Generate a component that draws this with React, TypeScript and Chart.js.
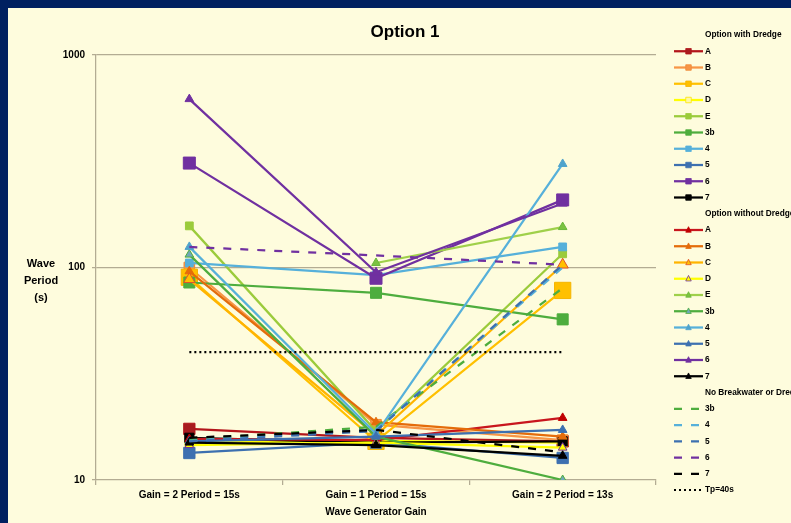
import { useEffect, useRef } from "react";
import { Chart, registerables } from "chart.js";

Chart.register(...registerables);

// ---- data ----
const categories = ["Gain = 2 Period = 15s", "Gain = 1 Period = 15s", "Gain = 2 Period = 13s"];
const yTickValues = [10, 100, 1000];

// Option with Dredge
const withA = [17.4, 15.8, 15.2];
const withB = [100, 18.2, 15.4];
const withC = [90, 15.2, 78];
const withD = [15.0, 15.3, 15.0];
const withE = [157, 17.0, 116];
const with3b = [85, 76, 57];
const with4 = [105, 92, 125];
const with5 = [13.4, 15.0, 12.7];
const with6 = [310, 89, 208];
const with7 = [15.8, 15.0, 15.2];

// Option without Dredge
const withoutA = [15.6, 15.4, 19.6];
const withoutB = [96, 18.7, 16.0];
const withoutC = [88, 16.2, 103];
const withoutD = [14.6, 15.0, 14.2];
const withoutE = [null, 105, 155];
const without3b = [115, 16.0, 10];
const without4 = [125, 16.5, 307];
const without5 = [15.2, 16.0, 17.2];
const without6 = [620, 95, 200];
const without7 = [15.0, 14.6, 13.0];

// No Breakwater or Dredge
const none3b = [15.5, 17.8, 80];
const none4 = [15.3, 17.3, 100];
const none5 = [15.2, 17.0, 103];
const none6 = [125, 114, 103];
const none7 = [15.8, 17.2, 13.5];

// Reference period
const tp40 = [40, 40, 40];

// ---- styling ----
const BG = "#FEFCDD";
const NAVY = "#002060";
const AXIS = "#B3AC93";
const FONT = "'Liberation Sans Narrow', 'Liberation Sans', Arial, sans-serif";
const W = 800;
const H = 530;

type Marker = "rect" | "triangle" | null;
type Series = {
  label: string;
  data: (number | null)[];
  color: string;
  dash?: number[];
  marker: Marker;
  fill?: string;
  stroke?: string;
  radius?: number;
};

const groupWith: Series[] = [
  { label: "A", data: withA, color: "#B3151B", marker: "rect", fill: "#A81C1F", stroke: "#B3151B", radius: 8 },
  { label: "B", data: withB, color: "#F79646", marker: "rect", fill: "#F79646", stroke: "#F08A36", radius: 7.5 },
  { label: "C", data: withC, color: "#FFC000", marker: "rect", fill: "#FFC000", stroke: "#F5B400", radius: 11.5 },
  { label: "D", data: withD, color: "#FFFF00", marker: "rect", fill: "#FFF9A8", stroke: "#FFE500", radius: 6 },
  { label: "E", data: withE, color: "#9BCB3B", marker: "rect", fill: "#9BCB3B", stroke: "#9BCB3B", radius: 5.5 },
  { label: "3b", data: with3b, color: "#4EAD3E", marker: "rect", fill: "#4EAD3E", stroke: "#4EAD3E", radius: 7.8 },
  { label: "4", data: with4, color: "#56B0DA", marker: "rect", fill: "#56B0DA", stroke: "#56B0DA", radius: 5.5 },
  { label: "5", data: with5, color: "#3D70B0", marker: "rect", fill: "#3D70B0", stroke: "#3D70B0", radius: 8 },
  { label: "6", data: with6, color: "#7030A0", marker: "rect", fill: "#7030A0", stroke: "#7030A0", radius: 8.5 },
  { label: "7", data: with7, color: "#000000", marker: "rect", fill: "#000000", stroke: "#000000", radius: 6.5 },
];

const groupWithout: Series[] = [
  { label: "A", data: withoutA, color: "#C8161D", marker: "triangle", fill: "#C00000", stroke: "#C00000", radius: 5 },
  { label: "B", data: withoutB, color: "#E46C0A", marker: "triangle", fill: "#E46C0A", stroke: "#E46C0A", radius: 5 },
  { label: "C", data: withoutC, color: "#FFB400", marker: "triangle", fill: "#FFC000", stroke: "#E0502A", radius: 6.5 },
  { label: "D", data: withoutD, color: "#FFFF00", marker: "triangle", fill: "#FFFF00", stroke: "#7030A0", radius: 5 },
  { label: "E", data: withoutE, color: "#9FD04A", marker: "triangle", fill: "#7CC240", stroke: "#6AB83A", radius: 5 },
  { label: "3b", data: without3b, color: "#4EAD3E", marker: "triangle", fill: "#6FA8B8", stroke: "#4EAD3E", radius: 5 },
  { label: "4", data: without4, color: "#56B0DA", marker: "triangle", fill: "#4FA3CC", stroke: "#4FA3CC", radius: 5 },
  { label: "5", data: without5, color: "#3D70B0", marker: "triangle", fill: "#3D70B0", stroke: "#3D70B0", radius: 5 },
  { label: "6", data: without6, color: "#7030A0", marker: "triangle", fill: "#7030A0", stroke: "#7030A0", radius: 5 },
  { label: "7", data: without7, color: "#000000", marker: "triangle", fill: "#000000", stroke: "#000000", radius: 5 },
];

const DASH = [8, 9];
const groupNone: Series[] = [
  { label: "3b", data: none3b, color: "#4EAD3E", dash: DASH, marker: null },
  { label: "4", data: none4, color: "#56B0DA", dash: DASH, marker: null },
  { label: "5", data: none5, color: "#3D70B0", dash: DASH, marker: null },
  { label: "6", data: none6, color: "#7030A0", dash: DASH, marker: null },
  { label: "7", data: none7, color: "#000000", dash: DASH, marker: null },
];

const tpSeries: Series = { label: "Tp=40s", data: tp40, color: "#000000", dash: [2, 3], marker: null };

const legendRows: (string | Series)[] = [
  "Option with Dredge",
  ...groupWith,
  "Option without Dredge",
  ...groupWithout,
  "No Breakwater or Dredge",
  ...groupNone,
  tpSeries,
];

const allSeries: Series[] = [...groupWith, ...groupWithout, ...groupNone, tpSeries];

function drawMarker(
  ctx: CanvasRenderingContext2D,
  style: Marker,
  x: number,
  y: number,
  size: number,
  fill: string,
  stroke: string
) {
  if (!style) return;
  ctx.save();
  ctx.setLineDash([]);
  ctx.beginPath();
  if (style === "rect") {
    ctx.rect(x - size / 2, y - size / 2, size, size);
  } else {
    ctx.moveTo(x, y - size * 0.6);
    ctx.lineTo(x + size / 2, y + size * 0.4);
    ctx.lineTo(x - size / 2, y + size * 0.4);
    ctx.closePath();
  }
  ctx.fillStyle = fill;
  ctx.fill();
  ctx.lineWidth = 0.8;
  ctx.strokeStyle = stroke;
  ctx.stroke();
  ctx.restore();
}

// Title, axis titles and the grouped legend are painted directly on the canvas.
const decorPlugin = {
  id: "decor",
  beforeDraw(chart: Chart) {
    const { ctx, width, height } = chart;
    ctx.save();
    ctx.fillStyle = BG;
    ctx.fillRect(0, 0, width, height);
    ctx.restore();
  },
  afterDraw(chart: Chart) {
    const { ctx, chartArea } = chart;
    ctx.save();
    ctx.fillStyle = "#000";
    ctx.textBaseline = "middle";

    // title
    ctx.textAlign = "center";
    ctx.font = `bold 17px ${FONT}`;
    ctx.fillText("Option 1", 397, 24);

    // y-axis title (horizontal, stacked)
    ctx.font = `bold 11px ${FONT}`;
    ctx.fillText("Wave", 33, 256);
    ctx.fillText("Period", 33, 273);
    ctx.fillText("(s)", 33, 290);

    // x-axis title
    ctx.font = `bold 10px ${FONT}`;
    ctx.fillText("Wave Generator Gain", (chartArea.left + chartArea.right) / 2, 504);

    // legend
    const x0 = 666;
    const x1 = 695;
    const textX = 697;
    const top = 27;
    const step = 16.25;
    ctx.textAlign = "left";
    ctx.font = `bold 8.3px ${FONT}`;
    legendRows.forEach((row, i) => {
      const y = top + i * step;
      if (typeof row === "string") {
        ctx.fillStyle = "#000";
        ctx.fillText(row, textX, y);
        return;
      }
      ctx.save();
      ctx.strokeStyle = row.color;
      ctx.lineWidth = row.dash && row.dash[0] === 2 ? 2 : 2.25;
      ctx.setLineDash(row.dash || []);
      ctx.beginPath();
      ctx.moveTo(x0, y);
      ctx.lineTo(x1, y);
      ctx.stroke();
      ctx.restore();
      drawMarker(ctx, row.marker, (x0 + x1) / 2, y, 5.5, row.fill || row.color, row.stroke || row.color);
      ctx.fillStyle = "#000";
      ctx.fillText(row.label, textX, y);
    });
    ctx.restore();
  },
};

export default function App() {
  const canvasRef = useRef<HTMLCanvasElement | null>(null);

  useEffect(() => {
    document.documentElement.style.overflow = "hidden";
    document.documentElement.style.background = NAVY;
    document.body.style.background = NAVY;
    const canvas = canvasRef.current;
    if (!canvas) return;
    const n = allSeries.length;

    const chart = new Chart(canvas, {
      type: "line",
      data: {
        labels: categories,
        datasets: allSeries.map((s, i) => ({
          label: s.label,
          data: s.data,
          borderColor: s.color,
          backgroundColor: s.color,
          borderWidth: 2.25,
          borderDash: s.dash || [],
          pointStyle: s.marker || "circle",
          pointRadius: s.marker ? s.radius || 5 : 0,
          pointHoverRadius: s.marker ? s.radius || 5 : 0,
          pointBackgroundColor: s.fill || s.color,
          pointBorderColor: s.stroke || s.color,
          pointBorderWidth: 1,
          tension: 0,
          fill: false,
          spanGaps: false,
          order: n - i,
        })),
      },
      options: {
        responsive: false,
        animation: false,
        devicePixelRatio: 1,
        layout: { padding: { left: 0, top: 47, right: W - 648, bottom: H - 515 } },
        plugins: {
          legend: { display: false },
          title: { display: false },
          tooltip: { enabled: false },
        },
        scales: {
          x: {
            type: "category",
            offset: true,
            grid: {
              display: true,
              drawOnChartArea: false,
              drawTicks: true,
              tickLength: 5,
              color: AXIS,
              offset: true,
              lineWidth: 1.25,
            },
            border: { color: AXIS, width: 1.25 },
            ticks: {
              color: "#000",
              font: { family: FONT, size: 10, weight: "bold" },
              padding: 4,
              maxRotation: 0,
              autoSkip: false,
            },
            afterFit: (scale: any) => {
              scale.height = 43;
            },
          },
          y: {
            type: "logarithmic",
            min: 10,
            max: 1000,
            afterBuildTicks: (scale: any) => {
              scale.ticks = yTickValues.map((v) => ({ value: v }));
            },
            afterFit: (scale: any) => {
              scale.width = 88;
            },
            grid: {
              color: (c: any) => (c.tick && c.tick.value > 10 ? AXIS : "rgba(0,0,0,0)"),
              tickColor: AXIS,
              drawTicks: true,
              tickLength: 4,
              lineWidth: 1.25,
            },
            border: { color: AXIS, width: 1.25 },
            ticks: {
              color: "#000",
              font: { family: FONT, size: 10, weight: "bold" },
              padding: 7,
              callback: (v: any) => String(v),
            },
          },
        },
      },
      plugins: [decorPlugin],
    });

    return () => chart.destroy();
  }, []);

  return (
    <div style={{ position: "fixed", left: 8, top: 8, width: W, height: H }}>
      <canvas ref={canvasRef} width={W} height={H} style={{ display: "block" }} />
    </div>
  );
}
